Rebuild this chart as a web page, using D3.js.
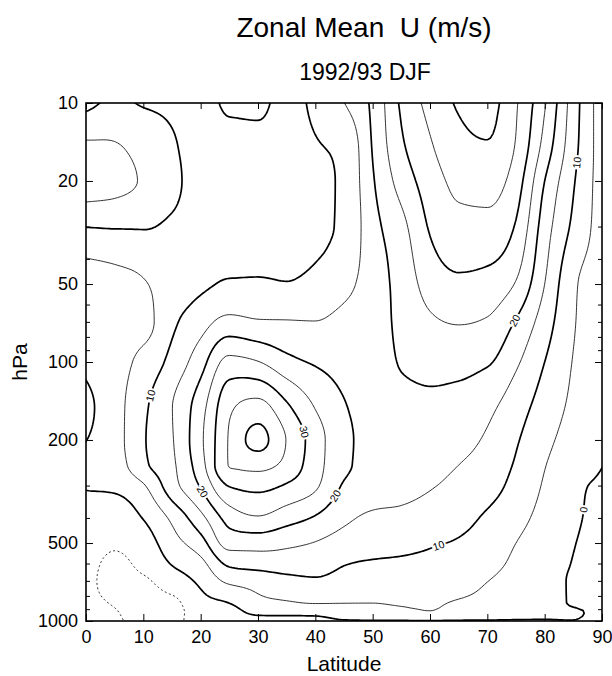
<!DOCTYPE html>
<html>
<head>
<meta charset="utf-8">
<script src="https://cdn.jsdelivr.net/npm/d3@7"></script>
<style>
  html, body { margin: 0; padding: 0; background: #fff; }
  svg { display: block; font-family: "Liberation Sans", Arial, Helvetica, sans-serif; }
</style>
</head>
<body>
<div id="chart"></div>
<script>
// ── Data: zonal mean U (m/s), rows = pressure level, columns = latitude ──
const lats = [0, 5, 10, 15, 20, 25, 30, 35, 40, 45, 50, 55, 60, 65, 70, 75, 80, 85, 90]
const pressures = [10, 15, 20, 30, 50, 70, 100, 150, 200, 250, 300, 400, 500, 600, 700, 850, 925, 1000]

const u10   = [8.5, 11, 9.6, 9.2, 8.8, 10.5, 10.5, 9.2, 10.8, 14.9, 21, 30.8, 36.5, 40.5, 41.5, 35.5, 25.5, 12.5, 2]
const u15   = [16, 15.5, 13.5, 10.6, 8.5, 9, 9.3, 9.2, 9.7, 11, 20.3, 29, 34.3, 38.5, 39.5, 34.5, 23, 11.7, 2.3]
const u20   = [17.5, 16.5, 14.5, 11.3, 8.3, 8.7, 9, 9, 9.2, 10.8, 19.5, 27, 32.5, 36.3, 37, 32.5, 20, 10.5, 2.5]
const u30   = [10.1, 10.3, 10.3, 9.3, 8.3, 8.7, 9, 9, 9.3, 10.8, 18.3, 23.5, 30.5, 33.5, 33.5, 29.5, 17.5, 9, 2.7]
const u50   = [2.5, 3.5, 4.6, 7.5, 9.3, 10.3, 10.3, 10.1, 11, 13.5, 17.5, 21.8, 27, 29, 28.3, 24.6, 15, 5.8, 2.8]
const u70   = [2, 3, 3.5, 9, 13, 16.5, 15.5, 15.3, 15.1, 16.5, 17.8, 21.2, 24.2, 25.3, 24.5, 19.6, 12.5, 5.4, 2.6]
const u100  = [1, 3, 6.5, 11.5, 18, 26.5, 25.2, 21.5, 19.5, 18.5, 18.3, 20.3, 21.2, 21.3, 20.5, 15.8, 10, 4.8, 2.3]
const u150  = [-1.2, 3, 9, 14.9, 23, 34, 37, 31, 24.8, 20.3, 19, 18.8, 19, 18.5, 16.2, 12.2, 7.8, 4, 1.7]
const u200  = [-0.1, 3, 9.5, 14.6, 24, 35.5, 41.5, 34.8, 27.5, 21, 19, 17.8, 17, 16.5, 14.3, 10.5, 6.3, 3, 1]
const u250  = [1.8, 2.8, 9, 14, 23, 35.2, 36.5, 33.5, 27, 21, 18.5, 17, 16, 15, 13, 9.5, 5.2, 2, 0.1]
const u300  = [0.3, 0.8, 4.5, 13, 20.5, 30.3, 31.5, 29.5, 25.8, 19.5, 17.5, 16.5, 15.3, 14, 12, 8.5, 4.5, 0.9, -0.6]
const u400  = [-1.5, -2.5, 0.2, 6, 13.5, 22, 24.5, 22, 19.5, 16, 14.2, 13.8, 12.8, 11.5, 9.3, 6.5, 3.5, 0.7, -1.3]
const u500  = [-3, -4.5, -2.5, 3, 8, 17, 17, 16, 14.8, 13, 12, 11.2, 10.4, 9.6, 8, 5, 2.7, 0.2, -1.6]
const u600  = [-4, -5.6, -4, 0.3, 3.6, 11, 12, 12.5, 12.5, 10.3, 9.5, 9.3, 9, 8.3, 6.8, 4, 2.3, -0.2, -1.8]
const u700  = [-4.3, -5.8, -5.5, -2.5, 1, 6, 7, 8.5, 9.3, 8, 7.5, 7.5, 7.5, 7, 5.1, 3, 2, -0.6, -1.8]
const u850  = [-4, -5.3, -6.5, -6, -1.5, 0.1, 3.5, 4.5, 5.3, 5.1, 5.05, 5.4, 5.6, 4.5, 3.5, 2.2, 1.7, -0.5, -1.6]
const u925  = [-3.5, -4.7, -6.8, -6.5, -2.5, -1.5, 1, 1.5, 1.5, 3, 3.5, 4, 4.8, 3, 2.5, 1.5, 1.2, 0.6, -1.2]
const u1000 = [-3, -4.2, -6.5, -6.5, -2, -1.2, -2, -2.5, -2, -0.5, -0.3, -0.3, -0.3, -0.3, -0.3, -0.3, -0.3, -0.1, -1]

const uRows = [u10, u15, u20, u30, u50, u70, u100, u150, u200, u250, u300, u400, u500, u600, u700, u850, u925, u1000]

const contourLevels = [-5, 0, 5, 10, 15, 20, 25, 30, 35, 40]
const xTicks = [0, 10, 20, 30, 40, 50, 60, 70, 80, 90]
const yTicks = [10, 20, 50, 100, 200, 500, 1000]
const yMinorTicks = [30, 40, 60, 70, 80, 90, 300, 400, 600, 700, 800, 900]

// where the contour labels sit (snapped to the nearest point of that contour)
const contourLabels = [
  { level: 10, lat: 11.2, p: 134 },
  { level: 20, lat: 19.3, p: 325 },
  { level: 30, lat: 37.6, p: 188 },
  { level: 20, lat: 43.1, p: 325 },
  { level: 10, lat: 61.7, p: 509 },
  { level: 0,  lat: 86.6, p: 375 },
  { level: 20, lat: 74.5, p: 68 },
  { level: 10, lat: 85.6, p: 16.8 },
]

// ── Layout ───────────────────────────────────────────────────────────────
const W = 612, H = 676
const PLOT = { left: 86, right: 602, top: 103, bottom: 621 }
const FONT = '"Liberation Sans", Arial, Helvetica, sans-serif'

const x = d3.scaleLinear().domain([0, 90]).range([PLOT.left, PLOT.right])
const y = d3.scaleLog().domain([10, 1000]).range([PLOT.top, PLOT.bottom])

// monotone (Steffen) cubic through the grid nodes, for smooth isolines
function monotone(xs, ys) {
  const n = xs.length, h = [], d = [], m = new Array(n)
  for (let i = 0; i < n - 1; i++) { h[i] = xs[i + 1] - xs[i]; d[i] = (ys[i + 1] - ys[i]) / h[i] }
  m[0] = d[0]; m[n - 1] = d[n - 2]
  for (let i = 1; i < n - 1; i++) {
    if (d[i - 1] * d[i] <= 0) { m[i] = 0; continue }
    const p = (d[i - 1] * h[i] + d[i] * h[i - 1]) / (h[i - 1] + h[i])
    m[i] = (Math.sign(d[i - 1]) + Math.sign(d[i])) * Math.min(Math.abs(d[i - 1]), Math.abs(d[i]), 0.5 * Math.abs(p))
  }
  return t => {
    let i = Math.max(0, Math.min(n - 2, d3.bisectRight(xs, t) - 1))
    const s = (t - xs[i]) / h[i], s2 = s * s, s3 = s2 * s
    return (2 * s3 - 3 * s2 + 1) * ys[i] + (s3 - 2 * s2 + s) * h[i] * m[i]
      + (-2 * s3 + 3 * s2) * ys[i + 1] + (s3 - s2) * h[i] * m[i + 1]
  }
}

// ── Fine grid (lat x log p) ──────────────────────────────────────────────
const NX = 181, NY = 201
const fineLat = d3.range(NX).map(i => i * 90 / (NX - 1))
const fineLogP = d3.range(NY).map(j => 1 + j * 2 / (NY - 1))
const logP = pressures.map(Math.log10)

const rowsFine = uRows.map(row => fineLat.map(monotone(lats, row)))
const grid = new Float64Array(NX * NY)
for (let i = 0; i < NX; i++) {
  const f = monotone(logP, rowsFine.map(r => r[i]))
  for (let j = 0; j < NY; j++) grid[j * NX + i] = f(fineLogP[j])
}

const contours = d3.contours().size([NX, NY]).thresholds(contourLevels)(grid)

const px = c => x((c - 0.5) * 90 / (NX - 1))
const py = c => y(Math.pow(10, 1 + (c - 0.5) * 2 / (NY - 1)))

// ── SVG ──────────────────────────────────────────────────────────────────
const svg = d3.select('#chart').append('svg')
  .attr('width', W).attr('height', H)

svg.append('clipPath').attr('id', 'plot-clip')
  .append('rect')
  .attr('x', PLOT.left).attr('y', PLOT.top)
  .attr('width', PLOT.right - PLOT.left).attr('height', PLOT.bottom - PLOT.top)

const g = svg.append('g').attr('clip-path', 'url(#plot-clip)')

const projected = contours.map(c => ({
  value: c.value,
  rings: c.coordinates.flat().map(r => r.map(p => [px(p[0]), py(p[1])]))
}))

g.selectAll('path.iso')
  .data(projected)
  .join('path')
  .attr('class', 'iso')
  .attr('d', c => c.rings.map(r => 'M' + r.map(p => p[0].toFixed(2) + ',' + p[1].toFixed(2)).join('L') + 'Z').join(''))
  .attr('fill', 'none')
  .attr('stroke', '#000')
  .attr('stroke-width', c => c.value < 0 ? 0.8 : (c.value % 10 === 0 ? 1.7 : 0.8))
  .attr('stroke-dasharray', c => c.value < 0 ? '2,2.5' : null)
  .attr('stroke-linejoin', 'round')

// ── Contour labels ───────────────────────────────────────────────────────
contourLabels.forEach(l => {
  const c = projected.find(c => c.value === l.level)
  const ax = x(l.lat), ay = y(l.p)
  let best = null
  c.rings.forEach(pts => pts.forEach((pt, k) => {
    const dd = (pt[0] - ax) ** 2 + (pt[1] - ay) ** 2
    if (!best || dd < best.dd) best = { dd, pts, k }
  }))
  const { pts, k } = best, n = pts.length
  const a = pts[(k - 3 + n) % n], b = pts[(k + 3) % n]
  let ang = Math.atan2(b[1] - a[1], b[0] - a[0]) * 180 / Math.PI
  if (ang > 90) ang -= 180
  if (ang <= -90) ang += 180
  g.append('text')
    .attr('transform', `translate(${pts[k][0]},${pts[k][1]}) rotate(${ang})`)
    .attr('text-anchor', 'middle')
    .attr('dy', '0.35em')
    .attr('font-family', FONT)
    .attr('font-size', 10.5)
    .attr('fill', '#000')
    .attr('stroke', '#fff')
    .attr('stroke-width', 4)
    .attr('paint-order', 'stroke')
    .text(l.level)
})

// ── Axes ─────────────────────────────────────────────────────────────────
function styleAxis(sel, size) {
  sel.select('.domain').remove()
  sel.selectAll('line').attr('stroke', '#000').attr('stroke-width', 1)
  sel.selectAll('text').attr('font-family', FONT).attr('font-size', size).attr('fill', '#000')
}

svg.append('g').attr('transform', `translate(0,${PLOT.bottom})`)
  .call(d3.axisBottom(x).tickValues(xTicks).tickSizeInner(-7).tickSizeOuter(0).tickPadding(9))
  .call(s => styleAxis(s, 18))

svg.append('g').attr('transform', `translate(0,${PLOT.top})`)
  .call(d3.axisTop(x).tickValues(xTicks).tickSizeInner(-6).tickSizeOuter(0).tickFormat(''))
  .call(s => styleAxis(s, 18))

svg.append('g').attr('transform', `translate(${PLOT.left},0)`)
  .call(d3.axisLeft(y).tickValues(yTicks).tickFormat(d3.format('d')).tickSizeInner(-7).tickSizeOuter(0).tickPadding(8))
  .call(s => styleAxis(s, 18))

svg.append('g').attr('transform', `translate(${PLOT.left},0)`)
  .call(d3.axisLeft(y).tickValues(yMinorTicks).tickFormat('').tickSizeInner(-4).tickSizeOuter(0))
  .call(s => styleAxis(s, 18))

svg.append('g').attr('transform', `translate(${PLOT.right},0)`)
  .call(d3.axisRight(y).tickValues(yTicks).tickFormat('').tickSizeInner(-7).tickSizeOuter(0))
  .call(s => styleAxis(s, 18))

svg.append('g').attr('transform', `translate(${PLOT.right},0)`)
  .call(d3.axisRight(y).tickValues(yMinorTicks).tickFormat('').tickSizeInner(-4).tickSizeOuter(0))
  .call(s => styleAxis(s, 18))

svg.append('rect')
  .attr('x', PLOT.left).attr('y', PLOT.top)
  .attr('width', PLOT.right - PLOT.left).attr('height', PLOT.bottom - PLOT.top)
  .attr('fill', 'none').attr('stroke', '#000').attr('stroke-width', 1.6)

// ── Titles ───────────────────────────────────────────────────────────────
svg.append('text')
  .attr('x', 364).attr('y', 37)
  .attr('text-anchor', 'middle')
  .attr('font-family', FONT).attr('font-size', 28)
  .style('white-space', 'pre')
  .text('Zonal Mean  U (m/s)')

svg.append('text')
  .attr('x', 365).attr('y', 80)
  .attr('text-anchor', 'middle')
  .attr('font-family', FONT).attr('font-size', 23)
  .text('1992/93 DJF')

svg.append('text')
  .attr('x', (PLOT.left + PLOT.right) / 2).attr('y', 671)
  .attr('text-anchor', 'middle')
  .attr('font-family', FONT).attr('font-size', 21)
  .text('Latitude')

svg.append('text')
  .attr('transform', `translate(27,${y(100)}) rotate(-90)`)
  .attr('text-anchor', 'middle')
  .attr('font-family', FONT).attr('font-size', 21)
  .text('hPa')
</script>
</body>
</html>
